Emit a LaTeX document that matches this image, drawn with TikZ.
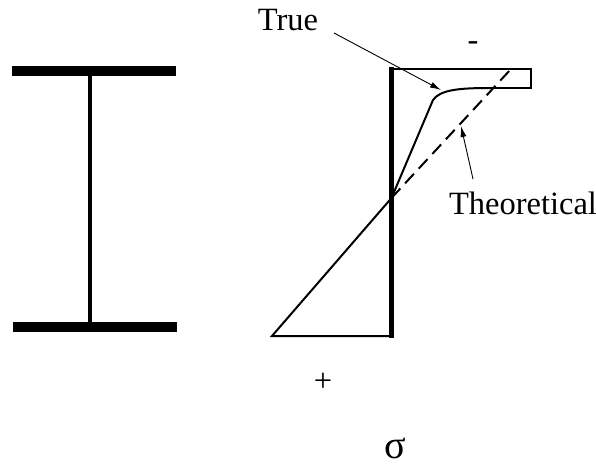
\documentclass[tikz,border=0pt]{standalone}
\usepackage{fontspec}
\setmainfont{Liberation Serif}
\usetikzlibrary{arrows.meta, positioning, calc}

\begin{document}
\begin{tikzpicture}[x=1pt, y=-1pt,
  lbl/.style={font=\fontsize{32.5}{36}\selectfont, inner sep=0pt},
  pointer/.style={-{Latex[length=11pt, width=6pt]}, line width=0.9pt},
  flange/.style={line width=10pt},
  web/.style={line width=4.5pt},
  stress/.style={line width=2pt, line join=miter}]
  \useasboundingbox (0,0) rectangle (596,466);
  % I-section
  \coordinate (tfl) at (12,71);
  \coordinate (tfr) at (176,71);
  \coordinate (bfl) at (13,327);
  \coordinate (bfr) at (177,327);
  \coordinate (wt) at (90,71);
  \coordinate (wb) at (90,327);
  \draw[flange] (tfl) -- (tfr);
  \draw[flange] (bfl) -- (bfr);
  \draw[web] (wt) -- (wb);
  % Stress diagram
  \coordinate (axtop) at (391.5,67);
  \coordinate (axbot) at (391.5,338);
  \coordinate (na) at (391.5,198);
  \coordinate (bl) at (272,336);
  \coordinate (br) at (391.5,336);
  \coordinate (rtl) at (391.5,69);
  \coordinate (rtr) at (531,69);
  \coordinate (rbr) at (531,88);
  \coordinate (rbl) at (490,88);
  \coordinate (knee) at (433,100);
  \coordinate (thtop) at (511,69);
  \draw[stress] (br) -- (bl) -- (na);
  \draw[stress] (rtl) -- (rtr) -- (rbr) -- (rbl);
  \draw[stress, line join=round] (na) -- (knee) .. controls (440,90) and (458,88) .. (rbl);
  \draw[stress, dash pattern=on 13pt off 7pt] (na) -- (thtop);
  \draw[web] (axtop) -- (axbot);
  % Labels
  \node[lbl] (true) at (288,20) {True};
  \node[lbl] (theo) at (523,203) {Theoretical};
  \node[lbl] (minus) at (473,46) {-};
  \node[lbl] (plus) at (323,382) {+};
  \node[lbl, font=\fontsize{40}{44}\selectfont] (sigma) at (395,448) {σ};
  \coordinate (trueTail) at (334,33);
  \coordinate (trueTip) at (441,90);
  \coordinate (theoTail) at (473,179);
  \coordinate (theoTip) at (461,126);
  \draw[pointer] (trueTail) -- (trueTip);
  \draw[pointer] (theoTail) -- (theoTip);
\end{tikzpicture}
\end{document}
